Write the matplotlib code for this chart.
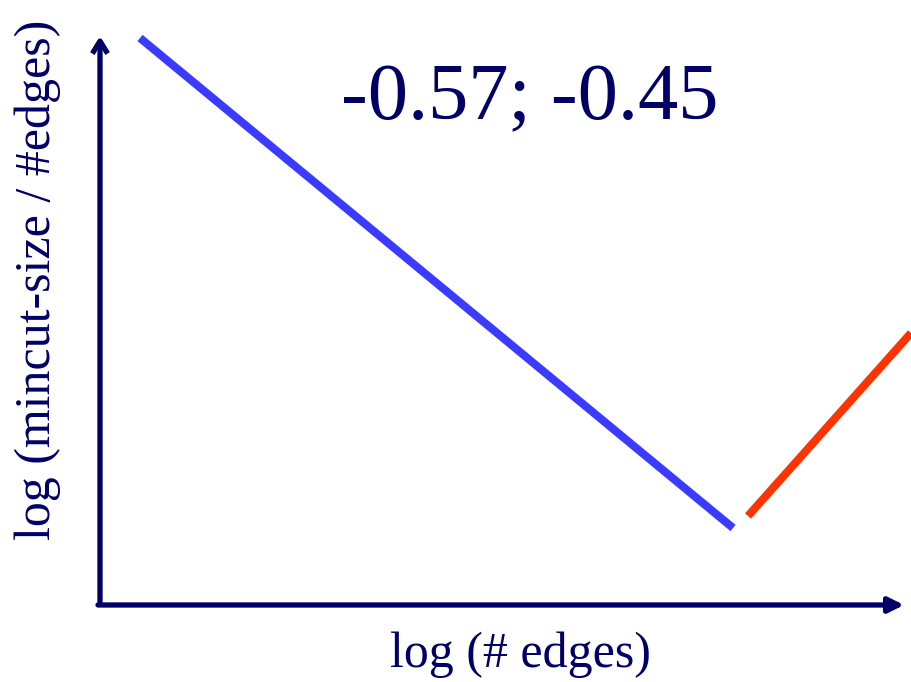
import matplotlib
matplotlib.use("Agg")
import matplotlib.pyplot as plt

# Schematic trend lines in canvas units (x right, y down)
blue_x = [140, 733]
blue_y = [38, 528]
red_x = [748, 911]
red_y = [516, 333]

slope_label = "-0.57; -0.45"
x_label = "log (# edges)"
y_label = "log (mincut-size / #edges)"

navy = "#000066"
blue = "#3b3bff"
red = "#ff3300"

fig = plt.figure(figsize=(9.11, 6.82), dpi=100)
ax = fig.add_axes([0, 0, 1, 1])
ax.set_xlim(0, 911)
ax.set_ylim(682, 0)
ax.axis("off")

serif = ["Liberation Serif", "DejaVu Serif"]

# Axes as arrows
ax.annotate("", xy=(100, 36), xytext=(100, 607),
            arrowprops=dict(arrowstyle="->,head_length=0.9,head_width=0.55",
                            color=navy, lw=3.8, shrinkA=0, shrinkB=0,
                            capstyle="butt", joinstyle="round"))
ax.annotate("", xy=(904, 605), xytext=(98, 605),
            arrowprops=dict(arrowstyle="-|>,head_length=0.9,head_width=0.45",
                            color=navy, lw=3.8, shrinkA=0, shrinkB=0))

ax.plot(blue_x, blue_y, color=blue, lw=5.8, solid_capstyle="butt")
ax.plot(red_x, red_y, color=red, lw=5.8, solid_capstyle="butt")

ax.text(530, 100, slope_label, fontsize=58, color=navy, family=serif,
        ha="center", va="center")
ax.text(521, 655, x_label, fontsize=36, color=navy, family=serif,
        ha="center", va="center")
ax.text(38, 280, y_label, fontsize=36, color=navy, family=serif,
        ha="center", va="center", rotation=90)

fig.savefig("out.png", dpi=100)
